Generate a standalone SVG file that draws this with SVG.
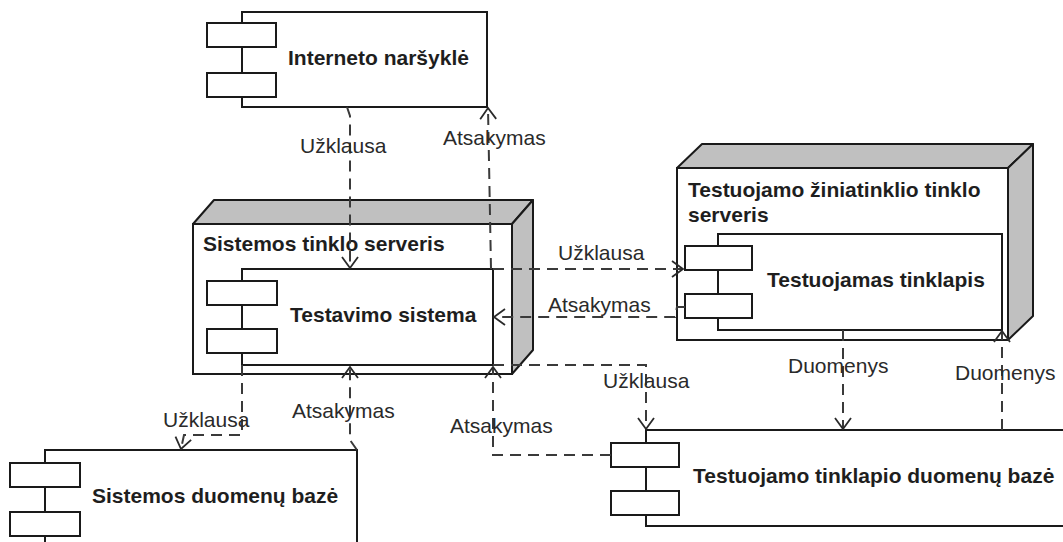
<svg xmlns="http://www.w3.org/2000/svg" width="1063" height="542" viewBox="0 0 1063 542">
  <style>
    .bg { fill: #ffffff; }
    .frame { fill: #ffffff; stroke: #1a1a1a; stroke-width: 2; }
    .shade { fill: #c0c0c0; stroke: #1a1a1a; stroke-width: 2; stroke-linejoin: round; }
    .port { fill: #ffffff; stroke: #1a1a1a; stroke-width: 2; }
    .edge { fill: none; stroke: #1a1a1a; stroke-width: 2; }
    .title { font-family: "Liberation Sans", Arial, sans-serif; font-size: 21px; font-weight: bold; fill: #1e1e1e; }
    .label { font-family: "Liberation Sans", Arial, sans-serif; font-size: 21px; fill: #2a2a2a; }
    .dep { fill: none; stroke: #3a3a3a; stroke-width: 2; stroke-dasharray: 11 7; marker-end: url(#open); }
  </style>
  <defs>
    <marker id="open" markerUnits="userSpaceOnUse" viewBox="-14 -12 16 24" markerWidth="16" markerHeight="24" refX="0" refY="0" orient="auto">
      <path d="M-11,-8 L0,0 L-11,8" fill="none" stroke="#2a2a2a" stroke-width="1.8"/>
    </marker>
  </defs>

  <rect class="bg" x="0" y="0" width="1063" height="542"/>

  <!-- Browser component -->
  <g id="interneto-narsykle">
    <rect class="frame" x="242" y="12" width="245" height="95"/>
    <rect class="port" x="207" y="23" width="69" height="24"/>
    <rect class="port" x="207" y="73" width="69" height="24"/>
    <text class="title" x="288" y="65">Interneto naršyklė</text>
  </g>

  <!-- System web server node with the testing system -->
  <g id="sistemos-tinklo-serveris">
    <polygon class="shade" points="193,224 214,200 533,200 512,224"/>
    <polygon class="shade" points="512,224 533,200 533,350 512,374"/>
    <rect class="frame" x="193" y="224" width="319" height="150"/>
    <text class="title" x="203" y="251">Sistemos tinklo serveris</text>
  </g>
  <g id="testavimo-sistema">
    <rect class="frame" x="242" y="269" width="251" height="96"/>
    <rect class="port" x="207" y="281" width="70" height="24"/>
    <rect class="port" x="207" y="329" width="70" height="24"/>
    <text class="title" x="290" y="322">Testavimo sistema</text>
  </g>

  <!-- Tested web server node with the tested page -->
  <g id="testuojamo-serveris">
    <polygon class="shade" points="677,168 702,144 1033,144 1008,168"/>
    <polygon class="shade" points="1008,168 1033,144 1033,316 1008,340"/>
    <rect class="frame" x="677" y="168" width="331" height="172"/>
    <text class="title" x="688" y="197">Testuojamo žiniatinklio tinklo</text>
    <text class="title" x="688" y="222">serveris</text>
  </g>
  <g id="testuojamas-tinklapis">
    <rect class="frame" x="718" y="234" width="284" height="96"/>
    <rect class="port" x="685" y="246" width="67" height="24"/>
    <rect class="port" x="685" y="294" width="67" height="24"/>
    <text class="title" x="767" y="287">Testuojamas tinklapis</text>
  </g>

  <!-- System database -->
  <g id="sistemos-duomenu-baze">
    <rect class="frame" x="45" y="450" width="312" height="110"/>
    <rect class="port" x="10" y="463" width="70" height="24"/>
    <rect class="port" x="10" y="512" width="70" height="24"/>
    <text class="title" x="92" y="503">Sistemos duomenų bazė</text>
  </g>

  <!-- Tested page database -->
  <g id="testuojamo-duomenu-baze">
    <rect class="frame" x="646" y="430" width="440" height="96"/>
    <rect class="port" x="611" y="443" width="68" height="24"/>
    <rect class="port" x="611" y="491" width="68" height="24"/>
    <text class="title" x="693" y="483">Testuojamo tinklapio duomenų bazė</text>
  </g>

  <!-- Dependencies -->
  <g id="connectors">
    <path class="dep" d="M347,107 L350,116 L350,268"/>
    <path class="dep" d="M491,269 L488,108"/>
    <path class="dep" d="M493,269 L683,269"/>
    <path class="dep" d="M685,307 L677,307 L675,317 L494,317"/>
    <path class="dep" d="M242,365 L242,435 L184,435 L181,449"/>
    <path class="dep" d="M357,450 L350,440 L350,367"/>
    <path class="dep" d="M493,365 L646,365 L646,429"/>
    <path class="dep" d="M611,455 L493,455 L493,367"/>
    <path class="dep" d="M843,330 L843,429"/>
    <path class="dep" d="M1002,430 L1002,331"/>

    <text class="label" x="300" y="153">Užklausa</text>
    <text class="label" x="443" y="145">Atsakymas</text>
    <text class="label" x="558" y="260">Užklausa</text>
    <text class="label" x="548" y="312">Atsakymas</text>
    <text class="label" x="163" y="427">Užklausa</text>
    <text class="label" x="292" y="418">Atsakymas</text>
    <text class="label" x="450" y="433">Atsakymas</text>
    <text class="label" x="603" y="388">Užklausa</text>
    <text class="label" x="788" y="373">Duomenys</text>
    <text class="label" x="955" y="380">Duomenys</text>
  </g>
</svg>
